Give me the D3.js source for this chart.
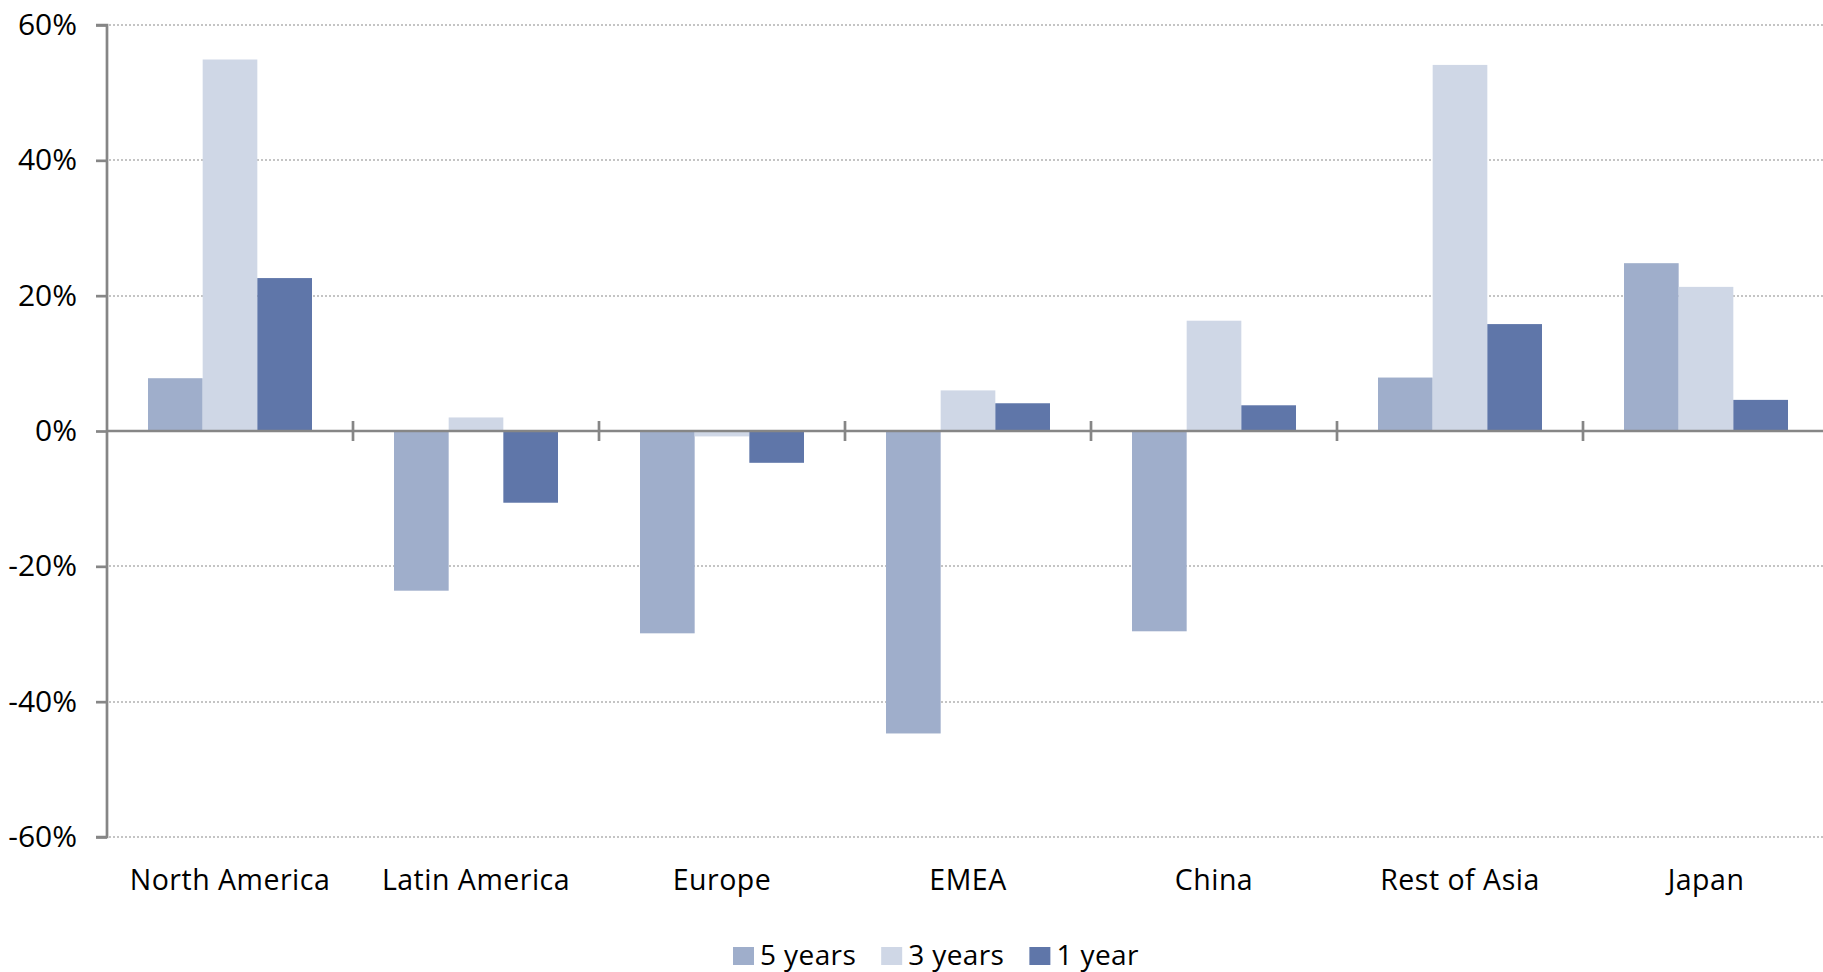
<!DOCTYPE html>
<html>
<head>
<meta charset="utf-8">
<script src="https://cdn.jsdelivr.net/npm/d3@7"></script>
<style>
  html, body { margin: 0; padding: 0; background: #ffffff; }
  svg { display: block; }
  text { font-family: "Open Sans", "Noto Sans", sans-serif; fill: #000; }
</style>
</head>
<body>
<svg id="chart" width="1823" height="972"></svg>
<script>
// Regional returns over three horizons
const regions = ["North America", "Latin America", "Europe", "EMEA", "China", "Rest of Asia", "Japan"];
const seriesNames = ["5 years", "3 years", "1 year"];
const fiveYears  = [0.078, -0.236, -0.299, -0.447, -0.296, 0.079, 0.248];
const threeYears = [0.549,  0.020, -0.008,  0.060,  0.163, 0.541, 0.213];
const oneYear    = [0.226, -0.106, -0.047,  0.041,  0.038, 0.158, 0.046];
const seriesColors = ["#9faecb", "#cfd7e6", "#5f76a9"];
const yTicks = [-0.6, -0.4, -0.2, 0, 0.2, 0.4, 0.6];

const seriesValues = [fiveYears, threeYears, oneYear];

const svg = d3.select("#chart");
const axisColor = "#868686";

// Plot frame: category band runs past the right edge of the page
const left = 107;
const step = 246;
const x0 = d3.scaleBand()
  .domain(regions)
  .range([left, left + step * regions.length])
  .paddingInner(1 / 3)
  .paddingOuter(1 / 6);
const x1 = d3.scaleBand()
  .domain(seriesNames)
  .range([0, x0.bandwidth()]);
const y = d3.scaleLinear().domain([-0.6, 0.6]).range([837, 25]);

// Dotted gridlines
svg.append("g")
  .selectAll("line")
  .data(yTicks.filter(d => d !== 0))
  .join("line")
  .attr("x1", left + 2)
  .attr("x2", 1823)
  .attr("y1", d => Math.round(y(d)))
  .attr("y2", d => Math.round(y(d)))
  .attr("stroke", "#c4c4c4")
  .attr("stroke-width", 2)
  .attr("stroke-dasharray", "2,2");

// Bars
const groups = svg.append("g")
  .selectAll("g")
  .data(regions)
  .join("g")
  .attr("transform", d => `translate(${x0(d)},0)`);

groups.selectAll("rect")
  .data((region, i) => seriesNames.map((s, j) => ({ series: s, j, value: seriesValues[j][i] })))
  .join("rect")
  .attr("x", d => x1(d.series))
  .attr("width", x1.bandwidth())
  .attr("y", d => y(Math.max(0, d.value)))
  .attr("height", d => Math.abs(y(d.value) - y(0)))
  .attr("fill", d => seriesColors[d.j]);

// Y axis with outward ticks and percent labels
const yAxis = d3.axisLeft(y)
  .tickValues(yTicks)
  .tickSize(11)
  .tickPadding(19)
  .tickFormat(d3.format(".0%"));

const yg = svg.append("g")
  .attr("transform", `translate(${left},0)`)
  .call(yAxis);
yg.select(".domain").attr("stroke", axisColor).attr("stroke-width", 2.7)
  .attr("d", `M-11,${y(0.6)}H0V${y(-0.6)}H-11`);
yg.selectAll(".tick line").attr("stroke", axisColor).attr("stroke-width", 2.7);
yg.selectAll(".tick text")
  .attr("font-size", 30)
  .attr("font-family", "'Open Sans', sans-serif")
  .attr("fill", "#000")
  .text(d => d3.format(".0%")(d).replace("−", "-"));

// Zero line with crossing category separators
svg.append("line")
  .attr("x1", left)
  .attr("x2", 1823)
  .attr("y1", y(0))
  .attr("y2", y(0))
  .attr("stroke", axisColor)
  .attr("stroke-width", 2.7);

const separators = d3.range(1, regions.length + 1).map(k => left + step * k);
svg.append("g")
  .selectAll("line")
  .data(separators)
  .join("line")
  .attr("x1", d => d)
  .attr("x2", d => d)
  .attr("y1", y(0) - 10)
  .attr("y2", y(0) + 10)
  .attr("stroke", axisColor)
  .attr("stroke-width", 2.7);

// Category labels
svg.append("g")
  .selectAll("text")
  .data(regions)
  .join("text")
  .attr("x", d => x0(d) + x0.bandwidth() / 2)
  .attr("y", 890)
  .attr("text-anchor", "middle")
  .attr("font-size", 28.5)
  .attr("letter-spacing", 0.5)
  .text(d => d);

// Legend
const legend = svg.append("g").attr("transform", "translate(733,0)");
let cursor = 0;
seriesNames.forEach((name, j) => {
  const item = legend.append("g").attr("transform", `translate(${cursor},0)`);
  item.append("rect")
    .attr("x", 0).attr("y", 947)
    .attr("width", 21).attr("height", 18)
    .attr("fill", seriesColors[j]);
  const t = item.append("text")
    .attr("x", 27).attr("y", 965)
    .attr("font-size", 28)
    .attr("letter-spacing", 0.4)
    .text(name);
  cursor += 27 + t.node().getComputedTextLength() + 25;
});
</script>
</body>
</html>
